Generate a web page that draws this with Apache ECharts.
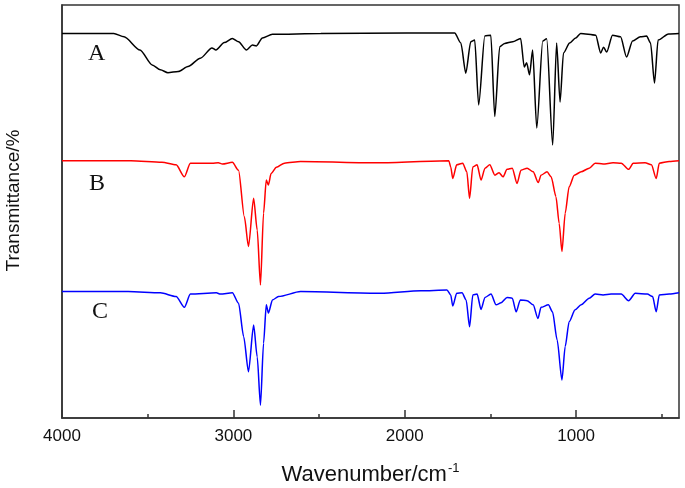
<!DOCTYPE html>
<html>
<head>
<meta charset="utf-8">
<title>FTIR spectra A / B / C</title>
<script src="https://cdn.jsdelivr.net/npm/echarts@6/dist/echarts.min.js"></script>
<style>
  html, body { margin: 0; padding: 0; background: #fff; }
  #chart { width: 685px; height: 488px; }
</style>
</head>
<body>
<div id="chart"></div>
<script>
// x axis (wavenumber, cm-1), drawn high -> low
const xMin = 400;
const xMax = 4000;
const majorTicks = [4000, 3000, 2000, 1000];
const minorTicks = [3500, 2500, 1500, 500];

// trace A (black) — offset transmittance, arbitrary units
const aWave = [4000, 3698, 3638, 3545, 3474, 3426, 3382, 3322, 3265, 3193, 3125, 3102, 3053, 3006, 2970, 2924, 2889, 2866, 2831, 2772, 2490, 1987, 1709, 1673, 1644, 1615, 1592, 1569, 1533, 1498, 1475, 1446, 1417, 1370, 1324, 1303, 1289, 1272, 1254, 1230, 1195, 1172, 1137, 1114, 1094, 1074, 1038, 1003, 974, 886, 857, 840, 822, 788, 741, 706, 671, 625, 589, 566, 543, 522, 461, 400];
const aT = [93.1, 93.1, 92.3, 89.1, 85.5, 84.3, 83.6, 83.9, 85.1, 87.1, 89.6, 89.1, 90.9, 91.9, 91.1, 89.1, 90.3, 90.1, 92.0, 92.9, 93.1, 93.2, 93.2, 90.8, 83.5, 91.1, 91.5, 75.8, 92.5, 92.7, 73.0, 89.9, 90.7, 91.1, 91.9, 85.0, 86.0, 83.1, 89.1, 70.2, 91.3, 91.8, 66.1, 90.8, 76.5, 88.4, 90.8, 92.0, 93.1, 92.7, 88.4, 89.8, 88.6, 92.7, 92.3, 87.4, 91.3, 92.3, 92.5, 90.8, 81.1, 91.5, 93.0, 93.1];

// trace B (red)
const bWave = [4000, 3598, 3417, 3334, 3286, 3251, 3123, 3088, 3064, 3006, 2970, 2936, 2912, 2882, 2861, 2842, 2824, 2808, 2796, 2780, 2749, 2702, 2608, 2152, 1743, 1732, 1720, 1697, 1662, 1638, 1622, 1603, 1578, 1555, 1532, 1504, 1474, 1450, 1427, 1403, 1373, 1345, 1322, 1286, 1251, 1221, 1205, 1170, 1146, 1118, 1099, 1083, 1064, 1041, 1011, 971, 924, 889, 843, 785, 737, 694, 667, 598, 561, 533, 515, 457, 400];
const bT = [62.3, 62.3, 61.9, 61.3, 58.4, 61.7, 61.7, 61.8, 61.5, 61.9, 60.0, 48.7, 41.5, 53.2, 45.5, 32.2, 49.6, 57.6, 56.4, 59.2, 60.7, 61.7, 62.1, 61.8, 62.3, 60.8, 58.0, 61.3, 61.7, 59.6, 53.2, 60.8, 61.3, 57.6, 60.5, 61.3, 58.8, 59.4, 58.4, 60.2, 60.5, 56.8, 60.0, 60.5, 59.6, 57.0, 58.8, 59.6, 58.4, 53.6, 47.1, 40.3, 49.6, 56.0, 58.8, 59.6, 60.5, 61.7, 61.5, 61.8, 61.7, 60.2, 61.7, 61.8, 61.3, 58.0, 61.7, 62.1, 62.3];

// trace C (blue)
const cWave = [4000, 3614, 3426, 3334, 3286, 3251, 3099, 3076, 3006, 2970, 2940, 2912, 2882, 2861, 2842, 2824, 2808, 2796, 2772, 2737, 2608, 2140, 1906, 1754, 1732, 1720, 1697, 1666, 1642, 1622, 1603, 1578, 1555, 1532, 1497, 1467, 1438, 1403, 1373, 1350, 1326, 1286, 1251, 1223, 1205, 1162, 1138, 1111, 1083, 1064, 1041, 1006, 971, 924, 889, 843, 796, 737, 694, 655, 585, 554, 533, 515, 457, 400];
const cT = [30.6, 30.6, 30.3, 29.4, 26.8, 30.0, 30.3, 30.0, 30.3, 27.8, 19.7, 11.2, 22.5, 14.8, 3.1, 18.1, 27.4, 25.4, 28.6, 29.4, 30.6, 30.2, 30.8, 31.0, 29.8, 27.1, 30.2, 30.3, 28.6, 22.1, 29.8, 30.0, 26.3, 29.2, 30.0, 27.4, 27.9, 29.2, 29.0, 25.7, 28.6, 28.4, 27.4, 24.1, 26.8, 27.4, 25.7, 18.9, 9.2, 17.3, 23.3, 26.2, 27.4, 29.0, 30.0, 29.8, 30.0, 30.0, 28.4, 30.2, 30.0, 29.4, 25.7, 29.8, 30.0, 30.3];

const traceNames = ['A', 'B', 'C'];
const traceColors = ['#000000', '#ff0000', '#0000ff'];

function pairs(xs, ys) {
  return xs.map(function (x, i) { return [x, ys[i]]; });
}

const traces = [pairs(aWave, aT), pairs(bWave, bT), pairs(cWave, cT)];

const chart = echarts.init(document.getElementById('chart'), null, { renderer: 'canvas' });

const axisFont = 'Arial, "Liberation Sans", sans-serif';
const serifFont = '"Times New Roman", "Liberation Serif", serif';

chart.setOption({
  animation: false,
  backgroundColor: '#ffffff',
  grid: {
    left: 62, right: 6, top: 5, bottom: 70,
    outerBoundsMode: 'none',
    show: true, borderColor: '#333', borderWidth: 1.5, backgroundColor: 'transparent'
  },
  xAxis: [
    {
      type: 'value', min: xMin, max: xMax, inverse: true,
      axisLine: { show: true, lineStyle: { color: '#333', width: 1.5 } },
      axisTick: { show: true, inside: true, length: 8, customValues: majorTicks, lineStyle: { color: '#333', width: 1.5 } },
      axisLabel: {
        customValues: majorTicks, color: '#111', fontSize: 17, fontFamily: axisFont, margin: 10,
        formatter: function (v) { return String(v); }
      },
      splitLine: { show: false },
      name: '{a|Wavenumber/cm}{s|-1}',
      nameLocation: 'middle',
      nameGap: 44,
      nameTextStyle: {
        rich: {
          a: { fontSize: 22, fontFamily: axisFont, color: '#111' },
          s: { fontSize: 13, fontFamily: axisFont, color: '#111', padding: [0, 0, 12, 1] }
        }
      }
    },
    {
      type: 'value', min: xMin, max: xMax, inverse: true, position: 'bottom',
      axisLine: { show: false },
      axisTick: { show: true, inside: true, length: 4, customValues: minorTicks, lineStyle: { color: '#333', width: 1.5 } },
      axisLabel: { show: false },
      splitLine: { show: false }
    }
  ],
  yAxis: {
    type: 'value', min: 0, max: 100,
    axisLine: { show: true, lineStyle: { color: '#333', width: 1.5 } },
    axisTick: { show: false },
    axisLabel: { show: false },
    splitLine: { show: false },
    name: 'Transmittance/%',
    nameLocation: 'middle',
    nameGap: 39,
    nameTextStyle: { fontSize: 19, fontFamily: axisFont, color: '#111', padding: [0, 0, 0, 22] }
  },
  graphic: [
    { type: 'text', left: 88, top: 42, style: { text: traceNames[0], font: '24px ' + serifFont, fill: '#111' } },
    { type: 'text', left: 89, top: 172, style: { text: traceNames[1], font: '24px ' + serifFont, fill: '#111' } },
    { type: 'text', left: 92, top: 300, style: { text: traceNames[2], font: '24px ' + serifFont, fill: '#111' } }
  ],
  series: traces.map(function (d, i) {
    return {
      name: traceNames[i],
      type: 'line',
      xAxisIndex: 0,
      data: d,
      showSymbol: false,
      smooth: 0.25,
      smoothMonotone: 'x',
      lineStyle: { color: traceColors[i], width: 1.5 },
      silent: true
    };
  })
});
</script>
</body>
</html>
